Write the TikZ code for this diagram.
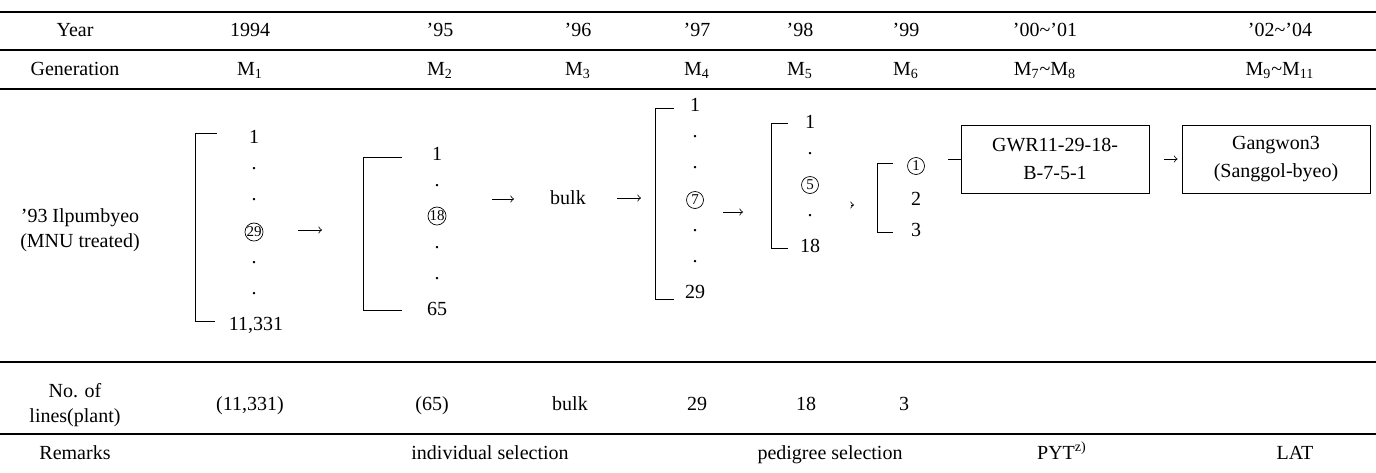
\documentclass[tikz,border=0pt]{standalone}
\usepackage{fontspec}
\setmainfont{Liberation Serif}
\usetikzlibrary{positioning}
\tikzset{
	txt/.style={inner sep=1pt, align=center, font=\fontsize{10}{12.5}\selectfont},
	cell/.style={txt, text height=7pt, text depth=2pt},
	circnum/.style={circle, draw, line width=0.35pt, inner sep=0pt, minimum size=8.5pt, font=\fontsize{7.5}{8}\selectfont},
	brk/.style={line width=0.5pt},
	rule/.style={line width=0.6pt},
	box/.style={draw, line width=0.5pt, minimum width=94pt, minimum height=34pt, align=center, font=\fontsize{10}{14}\selectfont},
	arr/.style={->, line width=0.4pt}
}

\begin{document}
\begin{tikzpicture}[x=0.5pt, y=-0.5pt]
				\useasboundingbox (0,0) rectangle (1376,472);
				
				% table rules
				\draw[rule] (0,12) -- (1376,12);
				\draw[rule] (0,50) -- (1376,50);
				\draw[rule] (0,89) -- (1376,89);
				\draw[rule] (0,362) -- (1376,362);
				\draw[rule] (0,434) -- (1376,434);
				
				% header rows
				\node[cell] (year) at (75,31) {Year};
				\node[cell] (y94) at (250,31) {1994};
				\node[cell] (y95) at (440,31) {’95};
				\node[cell] (y96) at (578,31) {’96};
				\node[cell] (y97) at (697,31) {’97};
				\node[cell] (y98) at (800,31) {’98};
				\node[cell] (y99) at (906,31) {’99};
				\node[cell] (y00) at (1045,31) {’00\textasciitilde’01};
				\node[cell] (y02) at (1280,31) {’02\textasciitilde’04};
				
				\node[cell] (gen) at (75,70) {Generation};
				\node[cell] (m1) at (250,70) {M\textsubscript{1}};
				\node[cell] (m2) at (440,70) {M\textsubscript{2}};
				\node[cell] (m3) at (578,70) {M\textsubscript{3}};
				\node[cell] (m4) at (697,70) {M\textsubscript{4}};
				\node[cell] (m5) at (800,70) {M\textsubscript{5}};
				\node[cell] (m6) at (906,70) {M\textsubscript{6}};
				\node[cell] (m78) at (1045,70) {M\textsubscript{7}\textasciitilde M\textsubscript{8}};
				\node[cell] (m911) at (1280,70) {M\textsubscript{9}\textasciitilde M\textsubscript{11}};
				
				% parent
				\node[txt] (parent) at (80,230) {’93 Ilpumbyeo\\(MNU treated)};
				
				% M1 lines
				\node[cell] (b1a) at (254,138) {1};
				\node[txt] (b1b) at (254,169) {.};
				\node[txt] (b1c) at (254,200) {.};
				\node[circnum] (b1d) at (254,232) {29};
				\node[txt] (b1e) at (254,263) {.};
				\node[txt] (b1f) at (254,294) {.};
				\node[cell] (b1g) at (256,325) {11,331};
				\draw[brk] (217,133) -| (195,321) -- (215,321);
				\coordinate (a1) at (298,230);
				\draw[arr] (a1) -- ++(24,0);
				
				% M2 lines
				\node[cell] (b2a) at (437,155) {1};
				\node[txt] (b2b) at (437,186) {.};
				\node[circnum] (b2c) at (437,216) {18};
				\node[txt] (b2d) at (437,248) {.};
				\node[txt] (b2e) at (437,279) {.};
				\node[cell] (b2f) at (437,310) {65};
				\draw[brk] (402,157) -| (363,310) -- (402,310);
				\coordinate (a2) at (492,199);
				\draw[arr] (a2) -- ++(22,0);
				
				% M3 bulk
				\node[cell] (bulk) at (568,199) {bulk};
				\coordinate (a3) at (617,198);
				\draw[arr] (a3) -- ++(24,0);
				
				% M4 lines
				\node[cell] (b4a) at (695,106) {1};
				\node[txt] (b4b) at (695,137) {.};
				\node[txt] (b4c) at (695,168) {.};
				\node[circnum] (b4d) at (695,200) {7};
				\node[txt] (b4e) at (695,231) {.};
				\node[txt] (b4f) at (695,262) {.};
				\node[cell] (b4g) at (695,293) {29};
				\draw[brk] (674,108) -| (655,299) -- (674,299);
				\coordinate (a4) at (723,212);
				\draw[arr] (a4) -- ++(20,0);
				
				% M5 lines
				\node[cell] (b5a) at (810,123) {1};
				\node[txt] (b5b) at (810,154) {.};
				\node[circnum] (b5c) at (810,185) {5};
				\node[txt] (b5d) at (810,216) {.};
				\node[cell] (b5e) at (810,247) {18};
				\draw[brk] (788,123) -| (771,248) -- (788,248);
				\coordinate (a5) at (851,205);
				\draw[arr] (a5) -- ++(3,0);
				
				% M6 lines
				\node[circnum] (b6a) at (916,166) {1};
				\node[cell] (b6b) at (916,200) {2};
				\node[cell] (b6c) at (916,231) {3};
				\draw[brk] (893,163) -| (877,232) -- (893,232);
				
				% selected line and cultivar
				\node[box] (gwr) at (1055,159) {GWR11-29-18-\\B-7-5-1};
				\node[box] (gangwon) at (1276,159) {Gangwon3\\(Sanggol-byeo)};
				\coordinate (l6) at (948,159);
				\draw[brk] (l6) -- (gwr.west);
				\draw[arr] (gwr.east) ++(14,0) coordinate (a7) -- ([xshift=-2]gangwon.west);
				
				% number of lines
				\node[txt] (nol) at (75,405) {No. of\\lines(plant)};
				\node[cell] (n1) at (250,405) {(11,331)};
				\node[cell] (n2) at (432,405) {(65)};
				\node[cell] (n3) at (570,405) {bulk};
				\node[cell] (n4) at (697,405) {29};
				\node[cell] (n5) at (806,405) {18};
				\node[cell] (n6) at (904,405) {3};
				
				% remarks
				\node[cell] (rem) at (75,454) {Remarks};
				\node[cell] (indiv) at (490,454) {individual selection};
				\node[cell] (pedig) at (830,454) {pedigree selection};
				\node[cell] (pyt) at (1062,454) {PYT\textsuperscript{z)}};
				\node[cell] (lat) at (1295,454) {LAT};
\end{tikzpicture}
\end{document}
